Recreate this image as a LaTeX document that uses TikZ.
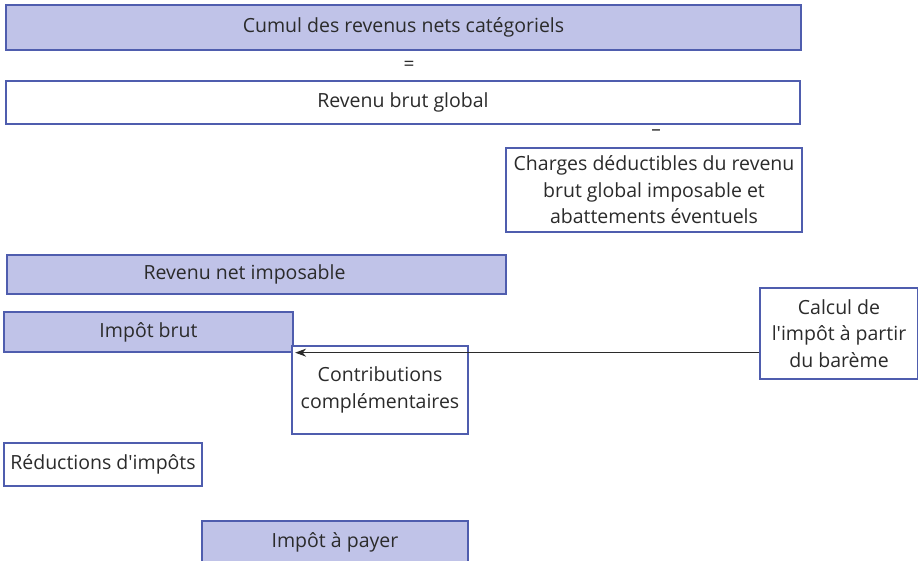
\documentclass[tikz,border=0pt]{standalone}
\usepackage{fontspec}
\setmainfont{Open Sans}
\usepackage{tikz}
\usetikzlibrary{positioning, arrows.meta}

\definecolor{bleufond}{HTML}{C0C3E8}
\definecolor{bleutrait}{HTML}{4F5DAE}
\definecolor{texte}{HTML}{2B2B2B}

\begin{document}
\begin{tikzpicture}[x=1pt, y=-1pt,
	boite/.style={draw=bleutrait, line width=1.3pt, fill=white, text=texte,
		inner sep=2pt, align=center, font=\fontsize{19.5}{26.5}\selectfont},
	pleine/.style={boite, fill=bleufond},
	signe/.style={text=texte, font=\fontsize{19}{22}\selectfont}]
	% cadre de l'image
	\useasboundingbox (0,0) rectangle (918,560);
	% calcul du revenu
	\node[pleine, minimum width=795pt, minimum height=45pt] (cumul) at (403.5,27.5) {Cumul des revenus nets catégoriels};
	\node[signe] (egal) at (409,66) {=};
	\node[boite, minimum width=794pt, minimum height=43pt] (rbg) at (403,102.5) {Revenu brut global};
	\node[signe] (moins) at (656,133) {–};
	\node[boite, minimum width=296pt, minimum height=84pt] (charges) at (654,190) {Charges déductibles du revenu\\brut global imposable et\\abattements éventuels};
	\node[pleine, minimum width=499pt, minimum height=39pt] (rni) at (256.5,274.5) {Revenu net imposable\hspace*{24pt}};
	% calcul de l'impot
	\node[pleine, minimum width=289pt, minimum height=40pt] (brut) at (148.5,332) {Impôt brut};
	\node[boite, minimum width=158pt, minimum height=91pt] (bareme) at (839,333.5) {Calcul de\\l\textquotesingle impôt à partir\\du barème};
	\node[boite, minimum width=176pt, minimum height=88pt] (contrib) at (380,390) {Contributions\\complémentaires};
	\node[boite, minimum width=198pt, minimum height=43pt] (reduc) at (103,464.5) {Réductions d\textquotesingle impôts};
	\node[pleine, minimum width=266pt, minimum height=42pt] (payer) at (335,542) {Impôt à payer};
	\draw[-{Stealth[length=11pt, width=8pt]}, line width=1pt, texte] (bareme.west |- brut.south east) -- ([xshift=1.5pt]brut.south east);
\end{tikzpicture}
\end{document}
